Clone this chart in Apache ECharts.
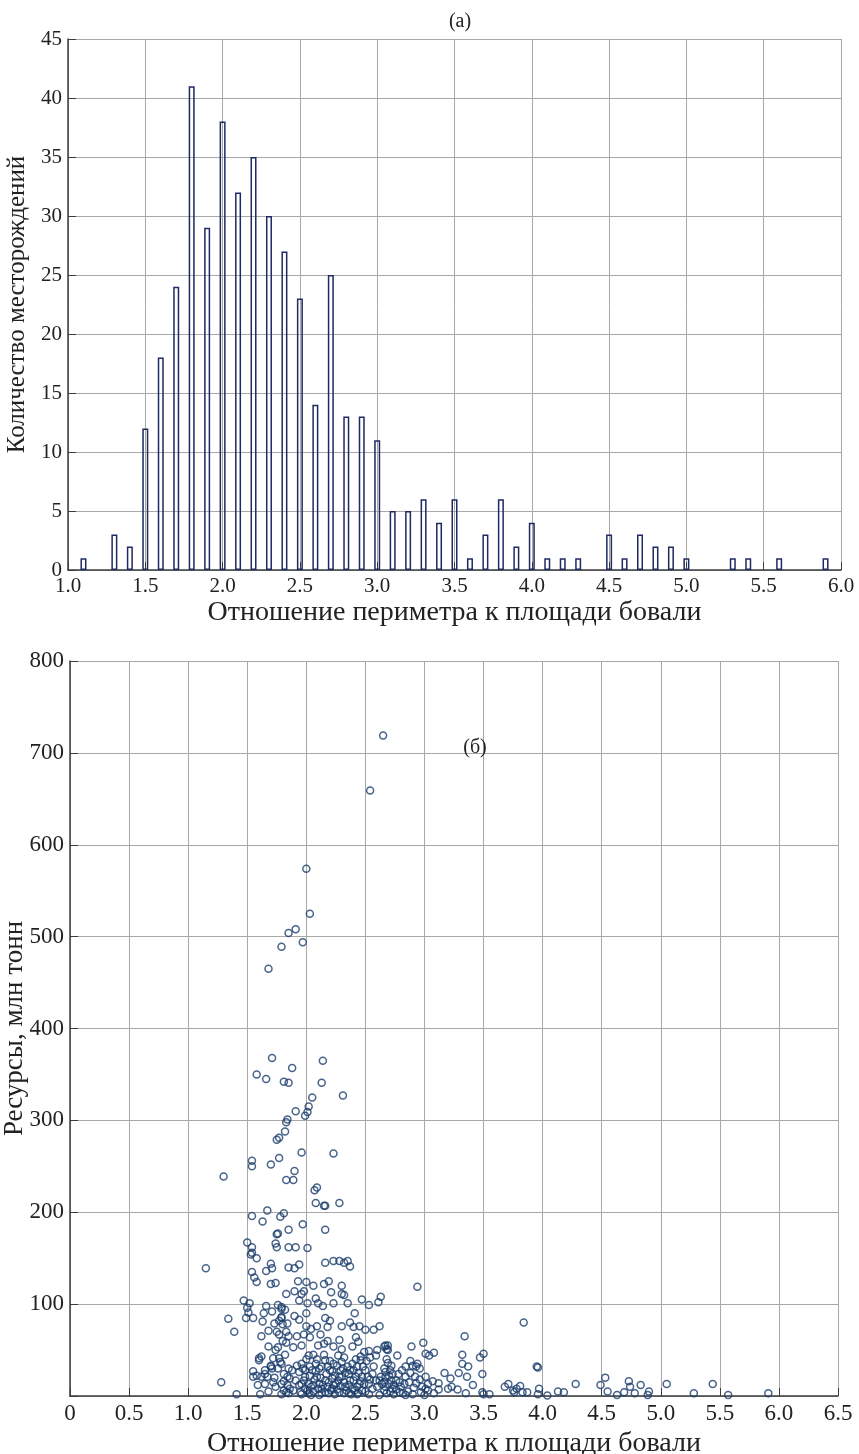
<!DOCTYPE html>
<html>
<head>
<meta charset="utf-8">
<title>Bovali perimeter / area ratio</title>
<script src="https://cdn.jsdelivr.net/npm/echarts@6/dist/echarts.min.js"></script>
<style>
    html, body {margin: 0; padding: 0; background: #fff;}
    #chart {width: 859px; height: 1454px;}
</style>
</head>
<body>
<div id="chart"></div>
<script>
// (a) histogram: bin centres and counts
const histBins = [1.1, 1.2, 1.3, 1.4, 1.5, 1.6, 1.7, 1.8, 1.9, 2.0,
    2.1, 2.2, 2.3, 2.4, 2.5, 2.6, 2.7, 2.8, 2.9, 3.0,
    3.1, 3.2, 3.3, 3.4, 3.5, 3.6, 3.7, 3.8, 3.9, 4.0,
    4.1, 4.2, 4.3, 4.4, 4.5, 4.6, 4.7, 4.8, 4.9, 5.0,
    5.1, 5.2, 5.3, 5.4, 5.5, 5.6, 5.7, 5.8, 5.9];
const histCounts = [1, 0, 3, 2, 12, 18, 24, 41, 29, 38,
    32, 35, 30, 27, 23, 14, 25, 13, 13, 11,
    5, 5, 6, 4, 6, 1, 3, 6, 2, 4,
    1, 1, 1, 0, 3, 1, 3, 2, 2, 1,
    0, 0, 1, 1, 0, 1, 0, 0, 1];

// (б) scatter: [ratio, resources (mln t)]
const bigFields = [
    [2.65, 719], [2.54, 659], [2.00, 574], [2.03, 525], [1.91, 508], [1.85, 504], [1.79, 489],
    [1.97, 494], [1.68, 465], [1.71, 368], [2.14, 365], [1.88, 357]
];
const midFields = [
    [1.58, 350], [1.66, 345], [1.81, 342], [1.85, 341], [2.13, 341], [2.31, 327], [2.05, 325],
    [2.02, 315], [2.01, 309], [1.99, 305], [1.91, 310], [1.84, 301], [1.83, 298], [1.82, 288],
    [1.77, 281], [1.75, 279], [1.96, 265], [2.23, 264], [1.54, 256], [1.54, 250], [1.77, 259],
    [1.70, 252], [1.90, 245], [1.30, 239], [1.83, 235], [1.89, 235], [2.09, 227], [2.07, 224],
    [2.08, 210], [2.15, 207], [2.16, 207], [2.28, 210], [1.54, 196], [1.67, 202], [1.81, 199],
    [1.78, 195], [1.63, 190], [1.97, 187], [1.85, 181], [2.16, 181], [1.75, 176], [1.76, 177],
    [1.50, 167], [1.54, 162], [1.74, 166], [1.75, 162], [1.85, 162], [1.91, 162], [2.01, 161]
];
const smallFields = [
    [1.15, 139], [1.54, 156], [1.53, 154], [1.58, 150], [1.70, 144], [1.71, 139], [1.66, 136],
    [1.85, 140], [1.90, 139], [1.94, 143], [1.54, 135], [1.56, 129], [1.58, 124], [1.70, 122],
    [1.74, 123], [2.16, 145], [2.23, 147], [2.28, 147], [2.32, 145], [2.35, 147], [2.37, 141],
    [1.93, 125], [2.00, 124], [2.06, 120], [2.15, 122], [2.19, 125], [2.21, 113], [2.30, 120],
    [2.30, 111], [2.32, 110], [1.83, 111], [1.90, 114], [1.98, 114], [1.96, 111], [1.94, 104],
    [2.01, 101], [2.08, 106], [2.10, 101], [2.23, 101], [2.14, 98], [2.35, 101], [2.47, 105],
    [2.53, 99], [2.61, 102], [2.63, 108], [1.47, 104], [1.52, 101], [1.50, 96], [1.51, 91],
    [1.49, 85], [1.55, 85], [1.34, 84], [1.39, 70], [1.64, 90], [1.66, 98], [1.71, 92],
    [1.76, 99], [1.79, 97], [1.82, 94], [1.63, 81], [1.73, 79], [1.79, 85], [1.84, 79],
    [1.90, 87], [1.94, 83], [2.00, 76], [2.04, 73], [2.09, 76], [2.16, 85], [2.20, 82],
    [2.18, 75], [2.30, 76], [2.37, 80], [2.40, 75], [2.45, 76], [2.50, 72], [2.57, 72],
    [2.62, 76], [1.62, 65], [1.68, 54], [1.75, 70], [1.77, 67], [1.83, 70], [1.85, 65],
    [1.92, 65], [1.98, 67], [2.03, 64], [1.96, 55], [1.89, 53], [1.83, 58], [1.76, 53],
    [2.12, 67], [2.15, 57], [2.23, 54], [2.28, 61], [2.30, 51], [2.39, 54], [2.42, 64],
    [2.44, 59], [2.53, 49], [2.60, 50], [2.66, 54], [2.69, 55], [2.06, 45], [2.15, 45],
    [2.32, 42], [2.46, 43], [1.60, 41], [1.62, 43], [1.77, 41], [1.78, 37], [1.70, 33],
    [1.55, 27], [1.58, 22], [1.65, 24], [1.67, 21], [1.73, 20], [1.28, 15], [1.41, 2],
    [1.59, 12], [1.61, 2], [1.74, 10], [1.79, 13], [1.79, 2],
    [1.60, 39], [1.65, 28], [1.62, 21], [1.71, 30], [1.76, 30], [1.68, 71], [1.77, 82],
    [1.80, 78], [1.79, 86], [1.79, 95], [1.55, 21], [1.65, 13], [1.81, 24], [1.81, 6],
    [1.79, 35], [1.70, 32], [1.72, 41]
];
const tinyFields = [
    [1.85, 30], [1.88, 28], [1.94, 26], [1.86, 19], [1.91, 17], [1.96, 13], [1.99, 8],
    [2.03, 32], [2.05, 28], [2.09, 21], [2.11, 13], [2.13, 8], [2.16, 39], [2.18, 32],
    [2.20, 28], [2.22, 19], [2.25, 13], [2.29, 28], [2.30, 21], [2.32, 15], [2.33, 10],
    [2.36, 24], [2.39, 35], [2.40, 28], [2.42, 21], [2.45, 13], [2.47, 6], [2.50, 28],
    [2.52, 21], [2.53, 13], [2.56, 24], [2.59, 17], [2.60, 10], [2.63, 21], [2.64, 13],
    [2.66, 6], [1.86, 8], [1.95, 4], [2.02, 3], [2.11, 1], [2.19, 3], [2.28, 4], [2.36, 3],
    [2.43, 2], [2.53, 2], [2.62, 1], [1.85, 3], [2.06, 12], [2.22, 8], [2.39, 8], [2.49, 48],
    [2.46, 39], [2.59, 44], [2.54, 42], [2.16, 17], [1.99, 21], [1.96, 35], [1.89, 6],
    [1.92, 33], [2.08, 35], [2.13, 32], [2.26, 33], [2.35, 32], [2.43, 32], [2.47, 21],
    [2.57, 32], [2.28, 21], [2.37, 17], [2.18, 10], [2.02, 13], [1.94, 12], [2.49, 13],
    [2.56, 8], [2.62, 17], [1.84, 21], [2.23, 35], [2.30, 37], [1.99, 28]
];
const denseBand = [
    [1.96, 2], [1.98, 17], [2.00, 40], [2.01, 6], [2.03, 22], [2.04, 10], [1.97, 30],
    [2.02, 44], [2.04, 1], [2.00, 90], [2.06, 5], [2.07, 18], [2.08, 27], [2.09, 40],
    [2.10, 8], [2.11, 30], [2.12, 20], [2.13, 3], [2.14, 12], [2.10, 55], [2.16, 4],
    [2.17, 24], [2.19, 15], [2.20, 38], [2.21, 6], [2.22, 27], [2.23, 12], [2.24, 2],
    [2.24, 22], [2.18, 60], [2.26, 7], [2.27, 17], [2.29, 11], [2.31, 30], [2.32, 3],
    [2.33, 25], [2.34, 6], [2.27, 44], [2.36, 12], [2.37, 28], [2.38, 2], [2.40, 17],
    [2.41, 6], [2.42, 40], [2.43, 10], [2.44, 25], [2.41, 90], [2.44, 3], [2.46, 16],
    [2.48, 32], [2.50, 5], [2.51, 38], [2.54, 18], [1.81, 16], [1.83, 4], [1.82, 45],
    [1.84, 12], [1.80, 60], [1.68, 5], [1.72, 15], [1.74, 50],
    [2.66, 15], [2.68, 3], [2.71, 5], [2.72, 17], [2.74, 12], [2.66, 30], [2.71, 28],
    [2.74, 2], [2.68, 40], [2.72, 33], [2.76, 7], [2.78, 24], [2.80, 10], [2.82, 3],
    [2.84, 32], [2.79, 15], [2.86, 5], [2.88, 25], [2.91, 9], [2.93, 14], [2.88, 38],
    [2.96, 18], [3.00, 1], [3.03, 13]
];
const tailFields = [
    [2.94, 119], [2.67, 55], [2.68, 51], [2.69, 50], [2.77, 44], [2.89, 54], [2.99, 58],
    [3.01, 46], [3.04, 44], [3.08, 47], [3.34, 65], [3.32, 45], [3.32, 35], [3.37, 32],
    [3.47, 42], [3.50, 46], [3.49, 24], [3.29, 25], [3.36, 21], [3.41, 12], [2.69, 36],
    [2.90, 33], [2.93, 32], [2.96, 30], [2.94, 35], [2.92, 21], [3.01, 21], [3.07, 16],
    [3.12, 14], [3.17, 25], [3.22, 19], [3.23, 10], [3.20, 8], [3.28, 7], [3.35, 3],
    [3.49, 4], [3.50, 2], [3.12, 7], [2.98, 10], [3.01, 8], [3.03, 6], [2.97, 4], [2.90, 2],
    [2.84, 1], [2.79, 4], [2.73, 8], [2.70, 13], [2.76, 17], [2.81, 28], [2.84, 21],
    [2.67, 26], [2.70, 22], [2.73, 24], [2.83, 13], [2.87, 15], [3.08, 3], [2.67, 21],
    [2.67, 10],
    [3.84, 80], [3.95, 32], [3.96, 31], [3.68, 10], [3.71, 13], [3.81, 11], [3.78, 8],
    [3.76, 4], [3.83, 4], [3.87, 4], [3.97, 8], [3.96, 2], [4.04, 0.5], [4.13, 5], [4.18, 4],
    [4.28, 13], [3.55, 2], [3.75, 6],
    [4.49, 12], [4.53, 20], [4.55, 5], [4.63, 1], [4.69, 4], [4.73, 16], [4.74, 10],
    [4.78, 3], [4.83, 12], [4.90, 5], [4.89, 1], [5.05, 13], [5.28, 3], [5.44, 13],
    [5.57, 1], [5.91, 3]
];

const FONT = 'Liberation Serif';
const TEXT = '#222';
const GRID_GREY = '#a8a8a8';
const AXIS_DARK = '#3c3c3c';

const chart = echarts.init(document.getElementById('chart'), null, {renderer: 'canvas'});

const tickLabel = (size) => ({fontFamily: FONT, fontSize: size, color: TEXT});
const nameStyle = (size) => ({fontFamily: FONT, fontSize: size, color: TEXT});

const option = {
    animation: false,
    backgroundColor: '#fff',
    textStyle: {fontFamily: FONT},
    title: [{
        text: '(a)', left: 455, top: 7, textAlign: 'center',
        textStyle: {fontFamily: FONT, fontSize: 20, fontWeight: 'normal', color: TEXT}
    }, {
        text: '(б)', left: 470, top: 733, textAlign: 'center',
        textStyle: {fontFamily: FONT, fontSize: 20, fontWeight: 'normal', color: TEXT}
    }],
    grid: [
        {left: 68, right: 18, top: 39, bottom: 884, outerBoundsMode: 'none'},
        {left: 70, right: 21, top: 661, bottom: 58, outerBoundsMode: 'none'}
    ],
    xAxis: [{
        gridIndex: 0,
        type: 'value',
        min: 1, max: 6, interval: 0.5,
        name: 'Отношение периметра к площади бовали',
        nameLocation: 'middle', nameGap: 29,
        nameTextStyle: nameStyle(28),
        axisLine: {show: true, onZero: false, lineStyle: {color: AXIS_DARK, width: 1.5}},
        axisTick: {show: true, inside: true, length: 8, lineStyle: {color: AXIS_DARK}},
        axisLabel: Object.assign(tickLabel(21), {margin: 6, formatter: v => v.toFixed(1)}),
        splitLine: {show: true, lineStyle: {color: GRID_GREY, width: 1}}
    }, {
        gridIndex: 1,
        type: 'value',
        min: 0, max: 6.5, interval: 0.5,
        name: 'Отношение периметра к площади бовали',
        nameLocation: 'middle', nameGap: 29,
        nameTextStyle: nameStyle(28),
        axisLine: {show: true, onZero: false, lineStyle: {color: AXIS_DARK, width: 1.5}},
        axisTick: {show: true, inside: true, length: 8, lineStyle: {color: AXIS_DARK}},
        axisLabel: Object.assign(tickLabel(23), {margin: 6, formatter: v => v === 0 ? '0' : v.toFixed(1)}),
        splitLine: {show: true, lineStyle: {color: GRID_GREY, width: 1}}
    }],
    yAxis: [{
        gridIndex: 0,
        type: 'value',
        min: 0, max: 45, interval: 5,
        name: 'Количество месторождений',
        nameLocation: 'middle', nameGap: 28,
        nameTextStyle: nameStyle(25),
        axisLine: {show: true, onZero: false, lineStyle: {color: AXIS_DARK, width: 1.5}},
        axisTick: {show: true, inside: true, length: 8, lineStyle: {color: AXIS_DARK}},
        axisLabel: Object.assign(tickLabel(21), {margin: 6}),
        splitLine: {show: true, lineStyle: {color: GRID_GREY, width: 1}}
    }, {
        gridIndex: 1,
        type: 'value',
        min: 0, max: 800, interval: 100,
        name: 'Ресурсы, млн тонн',
        nameLocation: 'middle', nameGap: 42,
        nameMoveOverlap: false,
        nameTextStyle: nameStyle(27),
        axisLine: {show: true, onZero: false, lineStyle: {color: AXIS_DARK, width: 1.5}},
        axisTick: {show: true, inside: true, length: 8, lineStyle: {color: AXIS_DARK}},
        axisLabel: Object.assign(tickLabel(23), {margin: 6, formatter: v => v === 0 ? '' : String(v)}),
        splitLine: {show: true, lineStyle: {color: GRID_GREY, width: 1}}
    }],
    series: [{
        type: 'bar',
        xAxisIndex: 0, yAxisIndex: 0,
        barWidth: 6,
        data: histBins.map((b, i) => [b, histCounts[i]]).filter(d => d[1] > 0),
        itemStyle: {color: 'rgba(255,255,255,0)', borderColor: '#1f2a62', borderWidth: 1.5}
    }, {
        type: 'scatter',
        xAxisIndex: 1, yAxisIndex: 1,
        symbol: 'circle',
        symbolSize: 7,
        data: [].concat(bigFields, midFields, smallFields, tinyFields, denseBand, tailFields),
        itemStyle: {color: 'rgba(255,255,255,0)', borderColor: '#1b3d6d', borderWidth: 1.5}
    }]
};

chart.setOption(option);
</script>
</body>
</html>
